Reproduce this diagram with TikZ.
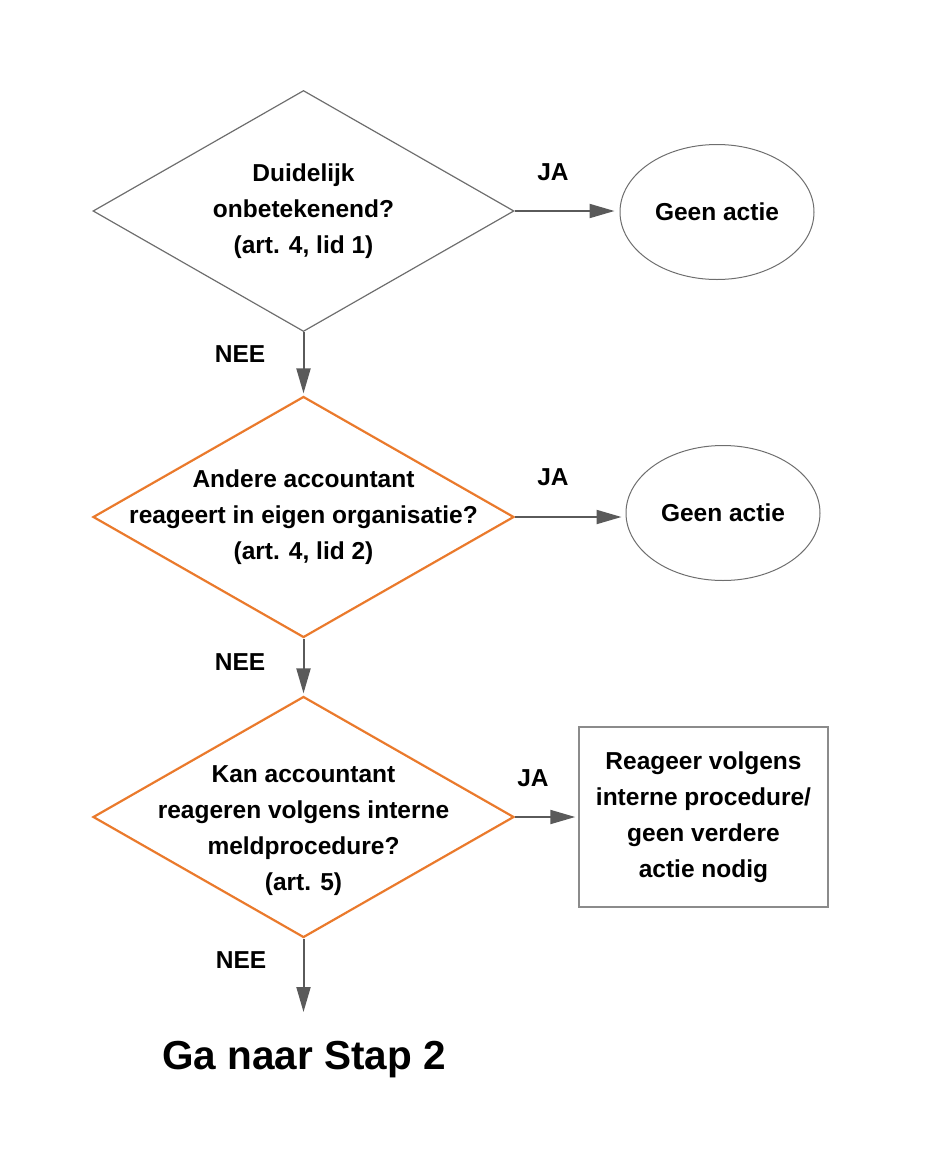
\documentclass[tikz,border=0pt]{standalone}
\usepackage{fontspec}
\setmainfont{Liberation Sans}
\usetikzlibrary{shapes.geometric,arrows.meta}
\definecolor{flowgray}{HTML}{5A5A5A}
\definecolor{lijngray}{HTML}{6E6E6E}
\definecolor{oranje}{HTML}{EA7A2C}
\begin{document}
\begin{tikzpicture}[x=1pt,y=-1pt,
    txt/.style={font=\fontsize{24.5}{36}\selectfont\bfseries, align=center, inner sep=0pt},
    vraag/.style={diamond, minimum width=421pt, minimum height=241pt, inner sep=0pt},
    vraaggrijs/.style={vraag, draw=lijngray, line width=1.2pt},
    vraagoranje/.style={vraag, draw=oranje, line width=2.2pt},
    eind/.style={ellipse, draw=lijngray, line width=1pt, minimum width=194pt, minimum height=135pt, txt},
    blok/.style={rectangle, draw=lijngray!80, line width=1.5pt, minimum width=249pt, minimum height=180pt, txt},
    flow/.style={draw=flowgray, line width=2pt, -{Triangle[length=25pt,width=14pt]}}]
  \useasboundingbox (0,0) rectangle (938,1165);
  % beslissingen
  \node[vraaggrijs] (d1) at (303.5,211) {};
  \node[vraagoranje] (d2) at (303.5,517) {};
  \node[vraagoranje] (d3) at (303.5,817) {};
  \node[txt] (t1) at (d1.center) {Duidelijk\\onbetekenend?\\(art. 4, lid 1)};
  \node[txt] (t2) at (d2.center) {Andere accountant\\reageert in eigen organisatie?\\(art. 4, lid 2)};
  \node[txt, yshift=-14pt] (t3) at (d3.center) {Kan accountant\\reageren volgens interne\\meldprocedure?\\(art. 5)};
  % uitkomsten
  \node[eind] (e1) at (717,212) {Geen actie};
  \node[eind] (e2) at (723,513) {Geen actie};
  \node[blok] (r1) at (703.5,817) {Reageer volgens\\interne procedure/\\geen verdere\\actie nodig};
  \coordinate (s2) at (303.5,1012);
  \node[txt, font=\fontsize{40.5}{48}\selectfont\bfseries] (ga) at (304,1060) {Ga naar Stap 2};
  % pijlen
  \draw[flow, shorten >=5pt] (d1.east) -- (d1.east -| e1.west);
  \draw[flow, shorten >=4pt] (d2.east) -- (d2.east -| e2.west);
  \draw[flow, shorten >=3pt] (d3.east) -- (r1.west);
  \draw[flow, shorten >=2pt] (d1.south) -- (d2.north);
  \draw[flow, shorten >=2pt] (d2.south) -- (d3.north);
  \draw[flow] (d3.south) -- (s2);
  % labels
  \node[txt] (ja1) at (553,172) {JA};
  \node[txt] (ja2) at (553,477) {JA};
  \node[txt] (ja3) at (533,778) {JA};
  \node[txt] (nee1) at (240,354) {NEE};
  \node[txt] (nee2) at (240,662) {NEE};
  \node[txt] (nee3) at (241,960) {NEE};
\end{tikzpicture}
\end{document}
